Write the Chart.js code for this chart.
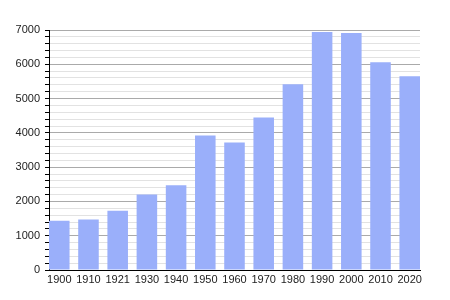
<!DOCTYPE html>
<html>
<head>
<meta charset="utf-8">
<script src="https://cdn.jsdelivr.net/npm/chart.js@4/dist/chart.umd.min.js"></script>
<style>
  html, body { margin: 0; padding: 0; background: #fff; }
  #wrap { width: 450px; height: 300px; position: relative; }
</style>
</head>
<body>
<div id="wrap"><canvas id="popChart"></canvas></div>
<script>
const years = ['1900', '1910', '1921', '1930', '1940', '1950', '1960', '1970', '1980', '1990', '2000', '2010', '2020'];
const population = [1440, 1470, 1730, 2200, 2470, 3925, 3720, 4450, 5420, 6940, 6910, 6060, 5650];
const yTicks = [0, 1000, 2000, 3000, 4000, 5000, 6000, 7000];

document.addEventListener('DOMContentLoaded', () => {
    const ctx = document.getElementById('popChart').getContext('2d');
    const font = { family: '"Liberation Sans", Arial, sans-serif', size: 11 };

    new Chart(ctx, {
        type: 'bar',
        data: {
            datasets: [{
                data: population.map((v, i) => ({ x: i, y: v })),
                backgroundColor: '#9aaffa',
                borderWidth: 0,
                categoryPercentage: 1,
                barPercentage: 0.704
            }]
        },
        options: {
            responsive: true,
            maintainAspectRatio: false,
            animation: false,
            layout: { padding: { top: 30, right: 30, left: 0, bottom: 0 } },
            plugins: { legend: { display: false }, tooltip: { enabled: false } },
            scales: {
                x: {
                    type: 'linear',
                    offset: false,
                    min: -0.352,
                    max: 12.352,
                    afterBuildTicks: (scale) => {
                        scale.ticks = years.map((_, i) => ({ value: i }));
                    },
                    afterFit: (scale) => { scale.height = 30; },
                    ticks: {
                        autoSkip: false,
                        maxRotation: 0,
                        padding: 3,
                        color: '#222',
                        font: font,
                        callback: (v) => years[v] || ''
                    },
                    grid: { display: false, drawTicks: false, offset: false },
                    border: { display: true, color: '#000', width: 1 }
                },
                y: {
                    min: 0,
                    max: 7000,
                    afterFit: (scale) => { scale.width = 49; },
                    ticks: {
                        stepSize: 200,
                        autoSkip: false,
                        padding: 5,
                        color: '#222',
                        font: font,
                        callback: (v) => yTicks.includes(v) ? String(v) : ''
                    },
                    grid: {
                        color: (c) => c.tick && c.tick.value % 1000 === 0 ? '#aaaaaa' : '#e2e2e2',
                        tickColor: '#000',
                        tickLength: 4
                    },
                    border: { display: true, color: '#000', width: 1 }
                }
            }
        }
    });
});
</script>
</body>
</html>
